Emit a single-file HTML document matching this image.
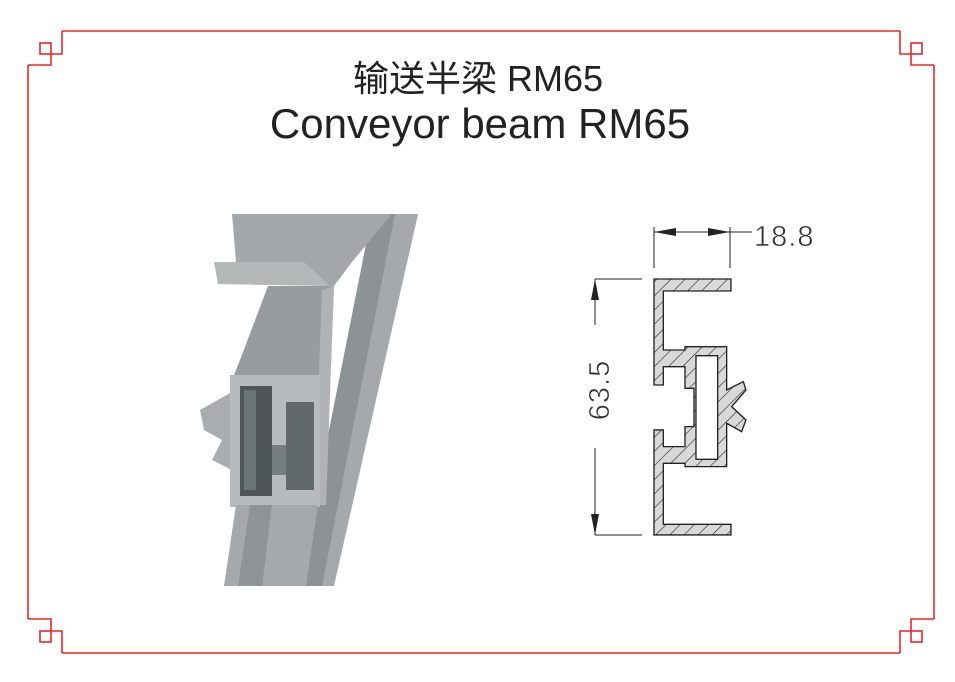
<!DOCTYPE html>
<html><head><meta charset="utf-8"><style>
html,body{margin:0;padding:0;background:#fff;}
body{width:955px;height:682px;overflow:hidden;position:relative;}
svg{position:absolute;left:0;top:0;}
</style></head><body>
<svg width="955" height="682" viewBox="0 0 955 682" xmlns="http://www.w3.org/2000/svg">
<defs>
<pattern id="h" patternUnits="userSpaceOnUse" width="30" height="30" patternTransform="rotate(45)">
<rect width="30" height="30" fill="#d9d9d9"/><line x1="0" y1="0" x2="0" y2="30" stroke="#333" stroke-width="4"/>
</pattern>
</defs>
<g fill="none" stroke="#e8262c" stroke-width="1.6">
<line x1="62" y1="31" x2="900" y2="31"/>
<line x1="62" y1="653" x2="900" y2="653"/>
<line x1="28" y1="65" x2="28" y2="619"/>
<line x1="934" y1="65" x2="934" y2="619"/>
<path d="M62,31 L62,54 L51,54 L51,65 L28,65"/><rect x="40" y="43" width="11" height="11"/>
<path d="M900,31 L900,54 L911,54 L911,65 L934,65"/><rect x="911" y="43" width="11" height="11"/>
<path d="M62,653 L62,631 L51,631 L51,619 L28,619"/><rect x="40" y="631" width="11" height="11"/>
<path d="M900,653 L900,631 L911,631 L911,619 L934,619"/><rect x="911" y="631" width="11" height="11"/>
</g>
<text x="478" y="91" text-anchor="middle" font-family="Liberation Sans, Noto Sans CJK SC, sans-serif" font-size="36" fill="#222">输送半梁 RM65</text>
<text x="480" y="138" text-anchor="middle" font-family="Liberation Sans, sans-serif" font-size="42" fill="#222">Conveyor beam RM65</text>

<!-- photo -->
<g>
<polygon points="372,214 418,214 332,586 298,586" fill="#8d9295"/>
<polygon points="395,214 418,214 334,586 322,586" fill="#a5a9ab"/>
<polygon points="232,214 392,214 352,262 334,286 220,284 214,262 236,262" fill="#a4a7a9"/>
<polygon points="214,262 304,262 330,286 218,284" fill="#b4b7b8"/>
<polygon points="268,286 334,286 330,380 232,380 240,360" fill="#979c9f"/>
<polygon points="322,290 334,286 326,505 314,505" fill="#b0b3b5"/>
<polygon points="200,410 232,392 232,470 212,460 222,440 204,430" fill="#a9adaf"/>
<rect x="230" y="375" width="90" height="132" fill="#b8bbbd"/>
<rect x="240" y="386" width="32" height="110" fill="#4f5659"/>
<rect x="244" y="390" width="12" height="100" fill="#6d7477"/>
<rect x="286" y="402" width="28" height="88" fill="#61696c"/>
<rect x="272" y="445" width="14" height="30" fill="#777e81"/>
<polygon points="236,505 318,505 306,586 224,586" fill="#a5a9ab"/>
<polygon points="250,505 272,505 262,586 238,586" fill="#8f9497"/>
</g>

<!-- drawing -->
<g font-family="Liberation Sans, sans-serif" fill="#222">
<g stroke="#222" stroke-width="1">
<line x1="654" y1="227" x2="654" y2="268"/>
<line x1="730" y1="227" x2="730" y2="268"/>
<line x1="654" y1="232" x2="752" y2="232"/>
<line x1="595" y1="279" x2="642" y2="279"/>
<line x1="595" y1="535" x2="642" y2="535"/>
<line x1="595" y1="279" x2="595" y2="325"/>
<line x1="595" y1="448" x2="595" y2="535"/>
</g>
<polygon points="654,232 676,228 676,236"/>
<polygon points="730,232 708,228 708,236"/>
<polygon points="595,279 591,300 599,300"/>
<polygon points="595,535 591,514 599,514"/>
<text x="754" y="246" font-size="29" letter-spacing="1" fill="#333" stroke="#fff" stroke-width="0.6">18.8</text>
<text transform="translate(609,390) rotate(-90)" text-anchor="middle" font-size="29" letter-spacing="1" fill="#333" stroke="#fff" stroke-width="0.6">63.5</text>
</g>
<g transform="translate(570,210) scale(0.3333)">
<path fill="url(#h)" fill-rule="evenodd" stroke="#222" stroke-width="4" d="M252,207 L483,207 L483,243 L280,243 L280,420 L345,420 L345,410 L470,410 L470,540 L520,515 L528,540 L485,590 L528,630 L515,665 L470,640 L470,770 L345,770 L345,760 L280,760 L280,943 L483,943 L483,975 L252,975 L252,660 L280,660 L280,710 L345,710 L345,650 L372,650 L372,535 L345,535 L345,470 L280,470 L280,525 L252,525 Z M378,437 L443,437 L443,748 L378,748 Z"/>
</g>
</svg>
</body></html>
